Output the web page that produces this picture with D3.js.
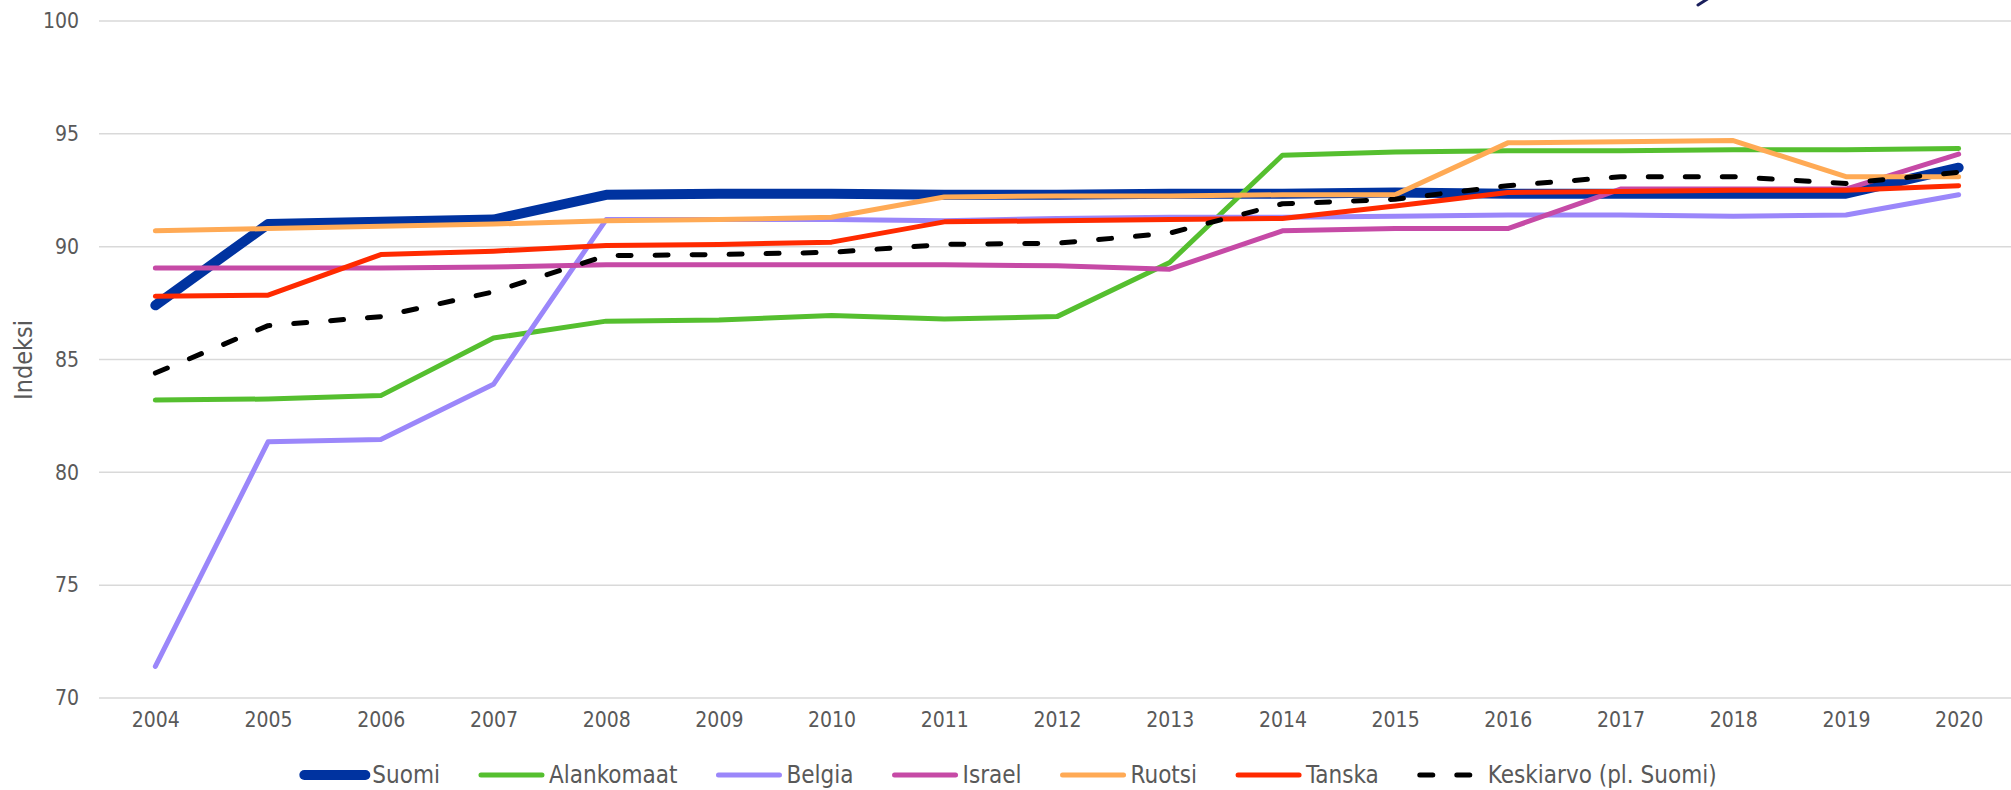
<!DOCTYPE html>
<html>
<head>
<meta charset="utf-8">
<script src="https://cdn.jsdelivr.net/npm/d3@7"></script>
<style>
  html, body { margin: 0; padding: 0; background: #fff; }
  svg { display: block; }
  text { font-family: "DejaVu Sans Condensed", "DejaVu Sans", sans-serif; fill: #595959; }
</style>
</head>
<body>
<svg width="2011" height="790"></svg>
<script>
const svg = d3.select("svg");

// DATA
const years = [2004, 2005, 2006, 2007, 2008, 2009, 2010, 2011, 2012, 2013, 2014, 2015, 2016, 2017, 2018, 2019, 2020];
const yTicks = [70, 75, 80, 85, 90, 95, 100];

const suomi = [87.4, 91.0, 91.1, 91.2, 92.3, 92.35, 92.35, 92.3, 92.3, 92.35, 92.35, 92.4, 92.35, 92.35, 92.35, 92.35, 93.5];
const alankomaat = [83.2, 83.25, 83.4, 85.95, 86.7, 86.75, 86.95, 86.8, 86.9, 89.3, 94.05, 94.2, 94.25, 94.25, 94.3, 94.3, 94.35];
const belgia = [71.4, 81.35, 81.45, 83.9, 91.2, 91.2, 91.2, 91.15, 91.25, 91.3, 91.3, 91.35, 91.4, 91.4, 91.35, 91.4, 92.3];
const israel = [89.05, 89.05, 89.05, 89.1, 89.2, 89.2, 89.2, 89.2, 89.15, 89.0, 90.7, 90.8, 90.8, 92.55, 92.55, 92.55, 94.1];
const ruotsi = [90.7, 90.8, 90.9, 91.0, 91.15, 91.2, 91.3, 92.2, 92.25, 92.25, 92.3, 92.3, 94.6, 94.65, 94.7, 93.1, 93.1];
const tanska = [87.8, 87.85, 89.65, 89.8, 90.05, 90.1, 90.2, 91.1, 91.15, 91.2, 91.25, 91.8, 92.4, 92.45, 92.5, 92.5, 92.7];
const keskiarvo = [84.4, 86.5, 86.9, 88.0, 89.6, 89.65, 89.75, 90.1, 90.15, 90.6, 91.9, 92.1, 92.7, 93.1, 93.1, 92.8, 93.3];

const seriesNames = ["Suomi", "Alankomaat", "Belgia", "Israel", "Ruotsi", "Tanska", "Keskiarvo (pl. Suomi)"];
const seriesValues = [suomi, alankomaat, belgia, israel, ruotsi, tanska, keskiarvo];
const seriesColors = ["#0033a0", "#55bf2f", "#9b87fa", "#c64aa6", "#ffaa55", "#ff2a00", "#000000"];

const series = seriesNames.map((name, i) => ({
  name,
  color: seriesColors[i],
  width: i === 0 ? 10 : 5,
  dashed: name.startsWith("Keskiarvo"),
  values: years.map((year, j) => ({ year, value: seriesValues[i][j] }))
}));

// CONSTANTS
const plot = { left: 99, right: 2015, top: 21, bottom: 698 };

// SCALES
const xScale = d3.scalePoint().domain(years).range([plot.left, plot.right]).padding(0.5);
const yScale = d3.scaleLinear().domain([70, 100]).range([plot.bottom, plot.top]);

// gridlines
svg.append("g")
  .selectAll("line")
  .data(yTicks)
  .join("line")
  .attr("x1", plot.left)
  .attr("x2", 2011)
  .attr("y1", d => yScale(d))
  .attr("y2", d => yScale(d))
  .attr("stroke", "#d9d9d9")
  .attr("stroke-width", 1.5);

// y axis labels
const yAxis = svg.append("g")
  .attr("transform", "translate(79,0)")
  .call(d3.axisLeft(yScale).tickValues(yTicks).tickSize(0).tickPadding(0));
yAxis.select(".domain").remove();
yAxis.selectAll("text")
  .attr("font-size", 21)
  .attr("fill", "#595959")
  .attr("font-family", "DejaVu Sans Condensed");

// x axis labels
const xAxis = svg.append("g")
  .attr("transform", "translate(0,712)")
  .call(d3.axisBottom(xScale).tickSize(0).tickPadding(0));
xAxis.select(".domain").remove();
xAxis.selectAll("text")
  .attr("font-size", 21)
  .attr("fill", "#595959")
  .attr("font-family", "DejaVu Sans Condensed");

// axis title
svg.append("text")
  .attr("transform", "translate(32,360) rotate(-90)")
  .attr("text-anchor", "middle")
  .attr("font-size", 25)
  .text("Indeksi");

// lines
const line = d3.line()
  .x(d => xScale(d.year))
  .y(d => yScale(d.value));

svg.append("g")
  .selectAll("path")
  .data(series)
  .join("path")
  .attr("d", d => line(d.values))
  .attr("fill", "none")
  .attr("stroke", d => d.color)
  .attr("stroke-width", d => d.width)
  .attr("stroke-linejoin", "round")
  .attr("stroke-linecap", "round")
  .attr("stroke-dasharray", d => d.dashed ? "13,24" : null);

// legend
const legend = svg.append("g");
const items = legend.selectAll("g")
  .data(series)
  .join("g");

items.append("line")
  .attr("x1", 3)
  .attr("x2", 64)
  .attr("y1", 0)
  .attr("y2", 0)
  .attr("stroke", d => d.color)
  .attr("stroke-width", d => d.width)
  .attr("stroke-linecap", "round")
  .attr("stroke-dasharray", d => d.dashed ? "13,24" : null);

items.append("text")
  .attr("x", 71)
  .attr("y", 8)
  .attr("font-size", 24)
  .text(d => d.name);

// place items one after another, centred
let offset = 0;
const widths = [];
items.each(function () {
  const w = 71 + this.querySelector("text").getComputedTextLength();
  widths.push(w);
});
const gap = 38;
const total = d3.sum(widths) + gap * (widths.length - 1);
let start = 1009 - total / 2;
items.attr("transform", (d, i) => {
  const x = start + offset;
  offset += widths[i] + gap;
  return `translate(${x},775)`;
});

// clipped logo stroke at the top edge
svg.append("path")
  .attr("d", "M1698,5 L1709,-2")
  .attr("stroke", "#1a1f5c")
  .attr("stroke-width", 3)
  .attr("stroke-linecap", "round");
</script>
</body>
</html>
